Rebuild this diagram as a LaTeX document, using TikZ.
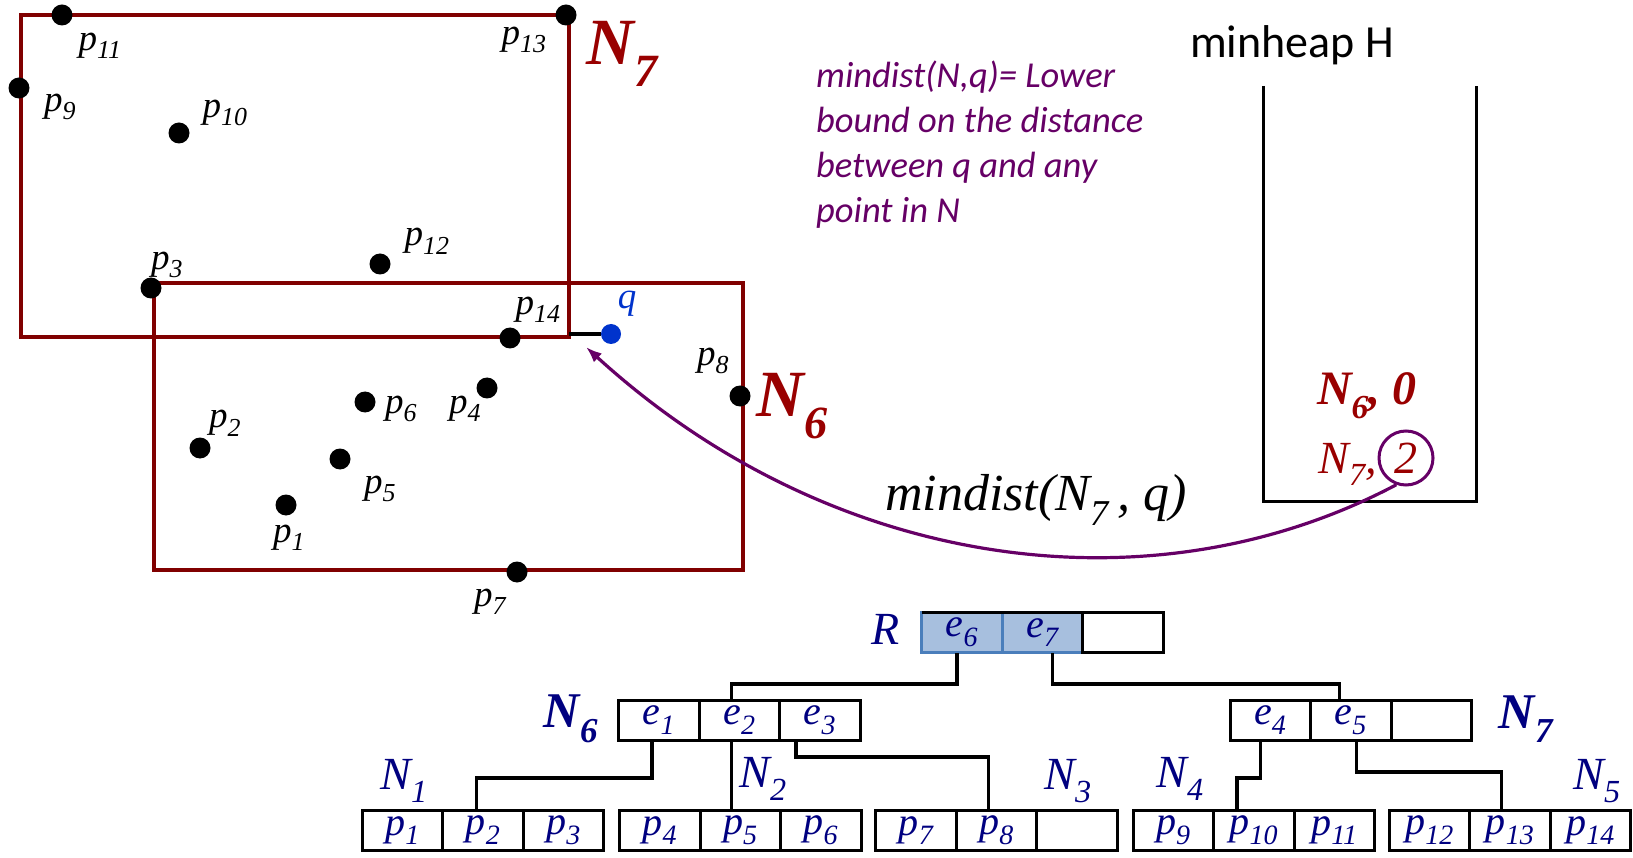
\documentclass[tikz,border=0pt]{standalone}
\usepackage{fontspec}
\setmainfont{Liberation Serif}
\newfontfamily\calibri{Carlito}
\usetikzlibrary{arrows.meta,positioning}
\definecolor{mbrred}{HTML}{800000}
\definecolor{lblred}{HTML}{990000}
\definecolor{treeblue}{HTML}{000080}
\definecolor{qblue}{HTML}{0033CC}
\definecolor{notepurple}{HTML}{660066}
\definecolor{hlfill}{HTML}{A7BFDE}
\definecolor{hlblue}{HTML}{4A7EBB}
\newcommand{\fsz}[1]{\fontsize{#1}{#1}\selectfont}

\begin{document}
\begin{tikzpicture}[x=1pt, y=-1pt,
        font=\fsz{37},
        >={Latex[length=16pt, width=12pt]},
        mbr/.style={draw=mbrred, line width=4.2pt, inner sep=0pt, outer sep=0pt},
        dot/.style={circle, fill=black, inner sep=0pt, minimum size=21pt},
        plbl/.style={font=\fsz{37}\itshape, inner sep=0pt},
        bigl/.style={font=\fsz{66}\bfseries\itshape, text=lblred, inner sep=0pt},
        cell/.style={draw, line width=3pt, minimum width=80.5pt, minimum height=40.5pt,
                     inner sep=0pt, outer sep=0pt, text=treeblue, font=\fsz{40}\itshape},
        tlbl/.style={text=treeblue, font=\fsz{46}\itshape, inner sep=0pt},
        link/.style={line width=3.2pt},
    ]
    \useasboundingbox (0,0) rectangle (1633,858);
    % MBRs and points.
    \node[mbr, minimum width=548pt, minimum height=322pt] (N7r) at (295,176) {};
    \node[mbr, minimum width=589pt, minimum height=287pt] (N6r) at (448.5,426.5) {};
    \node[bigl] (N7l) at (622,54) {N\textsubscript{7}};
    \node[bigl] (N6l) at (792,406) {N\textsubscript{6}};
    \foreach \nm/\x/\y in {p1/286/505, p2/200/448, p3/151/288, p4/487/388, p5/340/459,
                           p6/365/402, p7/517/572, p8/740/396, p9/19/88, p10/179/133,
                           p11/62/15, p12/380/264, p13/566/15, p14/510/338}
        \node[dot] (\nm) at (\x,\y) {};
    \foreach \i/\x/\y in {1/289/538, 2/225/423, 3/167/265, 4/465/409, 5/380/489,
                          6/401/409, 7/490/602, 8/713/361, 9/60/107, 10/225/113,
                          11/100/46, 12/427/241, 13/524/40, 14/538/310}
        \node[plbl] (p\i-l) at (\x,\y) {p\textsubscript{\i}};
    \node[dot, fill=qblue, minimum size=20pt] (q) at (611,334) {};
    \node[plbl, text=qblue] (q-l) at (627,304) {q};
    \draw[link] (N7r.east |- q) -- (q);
    % Note and heap.
    \node[font=\calibri\itshape\fontsize{36.5}{45}\selectfont, text=notepurple, align=left,
          anchor=north west, inner sep=0pt] (note) at (816,61)
        {mindist(N,q)= Lower\\bound on the distance\\between q and any\\point in N};
    \node[font=\calibri\fsz{46}, inner sep=0pt] (heapttl) at (1292,45) {minheap H};
    \coordinate (hp-tl) at (1263,86);
    \coordinate (hp-bl) at (1263,501);
    \coordinate (hp-br) at (1476,501);
    \coordinate (hp-tr) at (1476,86);
    \draw[line width=3pt] (hp-tl) -- (hp-bl) -- (hp-br) -- (hp-tr);
    \node[font=\fsz{48}\bfseries\itshape, text=lblred, inner sep=0pt] (hN6) at (1367,396)
        {N\textsubscript{6}, 0};
    \node[circle, draw=notepurple, line width=3pt, minimum size=54pt, inner sep=0pt,
          font=\fsz{46}\itshape, text=lblred] (hd2) at (1406,458) {2};
    \node[font=\fsz{46}\itshape, text=lblred, inner sep=0pt, anchor=base east]
        (hN7) at (hd2.west |- hd2.base) {N\textsubscript{7},};
    \coordinate (mdtip) at (586,347);
    \draw[->, notepurple, line width=3.2pt] (hd2.-110) .. controls (1150,615) and (830,570) .. (mdtip);
    \node[font=\fsz{52}\itshape, inner sep=0pt] (mdlbl) at (1036,500) {mindist(N\textsubscript{7}\,, q)};
    % R-tree.
    \node[cell, fill=hlfill, draw=hlblue, anchor=north west] (r-1) at (921.7,612.4) {e\textsubscript{6}};
    \node[cell, fill=hlfill, draw=hlblue, right=0pt of r-1] (r-2) {e\textsubscript{7}};
    \node[cell, right=0pt of r-2] (r-3) {};
    \draw[link] (r-1.north west) -- (r-3.north east);
    \node[tlbl] (Rl) at (886,629) {R};
    \foreach \nm/\x/\y/\a/\b/\c in {n6/618.7/700/e\textsubscript{1}/e\textsubscript{2}/e\textsubscript{3},
                                    n7/1230/700/e\textsubscript{4}/e\textsubscript{5}/{},
                                    n1/362.4/810.3/p\textsubscript{1}/p\textsubscript{2}/p\textsubscript{3},
                                    n2/619.7/810.3/p\textsubscript{4}/p\textsubscript{5}/p\textsubscript{6},
                                    n3/875.9/810.3/p\textsubscript{7}/p\textsubscript{8}/{},
                                    n4/1133.2/810.3/p\textsubscript{9}/p\textsubscript{10}/p\textsubscript{11},
                                    n5/1389.4/810.3/p\textsubscript{12}/p\textsubscript{13}/p\textsubscript{14}}{
        \node[cell, anchor=north west] (\nm-1) at (\x,\y) {\a};
        \node[cell, right=0pt of \nm-1] (\nm-2) {\b};
        \node[cell, right=0pt of \nm-2] (\nm-3) {\c};
    }
    \node[tlbl, font=\fsz{50}\bfseries\itshape] (N6t) at (571,719) {N\textsubscript{6}};
    \node[tlbl, font=\fsz{50}\bfseries\itshape] (N7t) at (1526,719) {N\textsubscript{7}};
    \foreach \i/\x/\y in {1/404/781, 2/763/779, 3/1068/781, 4/1180/779, 5/1597/781}
        \node[tlbl] (N\i t) at (\x,\y) {N\textsubscript{\i}};
    \draw[link] ([xshift=-5pt]r-1.south) -- ++(0,31) -| ([xshift=-8pt]n6-2.north);
    \draw[link] ([xshift=10pt]r-2.south) -- ++(0,31) -| ([xshift=-11pt]n7-2.north);
    \draw[link] ([xshift=-7pt]n6-1.south) -- ++(0,37.5) -| ([xshift=-7pt]n1-2.north);
    \draw[link] ([xshift=-8pt]n6-2.south) -- ([xshift=-8pt]n6-2.south |- n2-2.north);
    \draw[link] ([xshift=-24pt]n6-3.south) -- ++(0,16.5) -| ([xshift=-8pt]n3-2.north);
    \draw[link] ([xshift=-10pt]n7-1.south) -- ++(0,37.5) -| ([xshift=-17pt]n4-2.north);
    \draw[link] ([xshift=6pt]n7-2.south) -- ++(0,31.5) -| ([xshift=-9pt]n5-2.north);
\end{tikzpicture}
\end{document}
